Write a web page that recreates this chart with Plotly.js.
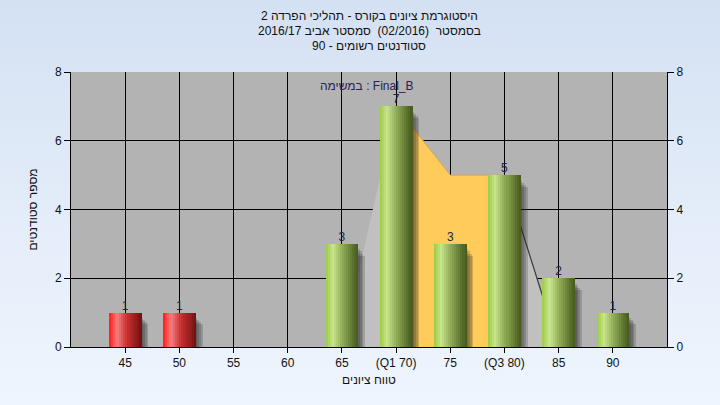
<!DOCTYPE html>
<html>
<head>
<meta charset="utf-8">
<script src="https://cdn.plot.ly/plotly-3.0.1.min.js"></script>
<style>
  html, body { margin: 0; padding: 0; }
  body { width: 720px; height: 405px; background: linear-gradient(to bottom, #D4E1F3 0%, #E4EDF9 55%, #EEF5FD 100%); }
  #chart { width: 720px; height: 405px; }
</style>
</head>
<body>
<div id="chart"></div>
<script>
// ---- data ----
const grades = [45, 50, 55, 60, 65, 70, 75, 80, 85, 90];
const tickLabels = ["45", "50", "55", "60", "65", "(Q1 70)", "75", "(Q3 80)", "85", "90"];
const counts = [1, 1, 0, 0, 3, 7, 3, 5, 2, 1];
const passMark = 55;
const curveX = [65, 70, 75, 80, 85];
const curveY = [0, 7, 5, 5, 0];
const iqrX = [70, 75, 80];
const iqrY = [7, 5, 5];
const tailX = [80, 85];
const tailY = [5, 0];
const titleLines = ["היסטוגרמת ציונים בקורס - תהליכי הפרדה 2", "בסמסטר  (02/2016)  סמסטר אביב 2016/17", "סטודנטים רשומים - 90"];
const taskLabel = "במשימה : Final_B";
const xTitle = "טווח ציונים";
const yTitle = "מספר סטודנטים";

// ---- helpers ----
function hex(c){ return [parseInt(c.slice(1,3),16), parseInt(c.slice(3,5),16), parseInt(c.slice(5,7),16)]; }
function grad(stops, t){
  for (let i = 0; i < stops.length - 1; i++) {
    const [p0, c0] = stops[i], [p1, c1] = stops[i+1];
    if (t >= p0 && t <= p1) {
      const f = (t - p0) / (p1 - p0), a = hex(c0), b = hex(c1);
      return 'rgb(' + a.map((v, k) => Math.round(v + (b[k] - v) * f)).join(',') + ')';
    }
  }
  return stops[stops.length-1][1];
}
const greenStops = [[0, '#9DCC40'], [0.22, '#C7E48C'], [0.5, '#93AE58'], [0.85, '#5A712C'], [1, '#46591F']];
const redStops = [[0, '#FF1818'], [0.25, '#F58080'], [0.55, '#C93232'], [0.88, '#8A1A1A'], [1, '#6E1010']];

const barW = 3;
const present = grades.map((g, i) => i).filter(i => counts[i] > 0);
const failIdx = present.filter(i => grades[i] < passMark);
const passIdx = present.filter(i => grades[i] >= passMark);

const traces = [];
// curve area (light gray) - on base subplot (drawn first)
traces.push({x: curveX, y: curveY, type: 'scatter', mode: 'lines', fill: 'tozeroy',
  fillcolor: '#C0C0C0', line: {width: 0, color: 'rgba(0,0,0,0)'}, hoverinfo: 'skip', showlegend: false});
// interquartile area (orange)
traces.push({x: iqrX, y: iqrY, type: 'scatter', mode: 'lines', fill: 'tozeroy',
  fillcolor: '#FFCC5C', line: {width: 1, color: '#D9A84A'}, hoverinfo: 'skip', showlegend: false});
// right tail line
traces.push({x: tailX, y: tailY, type: 'scatter', mode: 'lines',
  line: {width: 1.2, color: '#3A3A3A'}, hoverinfo: 'skip', showlegend: false});

// shadows (overlay subplot, drawn above the areas)
for (let k = 1; k <= 4; k++) {
  traces.push({type: 'bar', x: present.map(i => grades[i]), y: present.map(i => counts[i] - 0.1 - 0.06 * k),
    yaxis: 'y2', width: barW, offset: -barW / 2 + 0.16 * k, marker: {color: 'rgba(35,35,35,0.2)', line: {width: 0}},
    hoverinfo: 'skip', showlegend: false});
}

// gradient slices
const N = 16;
function addBars(idx, stops){
  if (!idx.length) return;
  for (let s = 0; s < N; s++) {
    traces.push({type: 'bar', x: idx.map(i => grades[i]), y: idx.map(i => counts[i]), yaxis: 'y2',
      width: barW / N + 0.02, offset: -barW / 2 + s * barW / N,
      marker: {color: grad(stops, (s + 0.5) / N), line: {width: 0}},
      hoverinfo: 'skip', showlegend: false});
  }
}
addBars(failIdx, redStops);
addBars(passIdx, greenStops);

// value labels
traces.push({type: 'scatter', mode: 'text', x: present.map(i => grades[i]), y: present.map(i => counts[i]), yaxis: 'y2',
  text: present.map(i => String(counts[i])), textposition: 'top center',
  textfont: {family: 'Liberation Sans, Arial, sans-serif', size: 12, color: '#1E2340'},
  hoverinfo: 'skip', showlegend: false, cliponaxis: false});

const font = {family: 'Liberation Sans, Arial, sans-serif', size: 12, color: '#111'};
const titleY = [1.2036, 1.149, 1.0945];
const annotations = titleLines.map((t, i) => ({text: t, xref: 'paper', yref: 'paper', x: 0.5, y: titleY[i],
  showarrow: false, xanchor: 'center', yanchor: 'middle', font: font}));
annotations.push({text: taskLabel, xref: 'paper', yref: 'paper', x: 0.497, y: 0.95, showarrow: false,
  xanchor: 'center', yanchor: 'middle', font: {family: 'Liberation Sans, Arial, sans-serif', size: 12, color: '#2A2250'}});

const layout = {
  width: 720, height: 405,
  margin: {l: 71, r: 53, t: 72, b: 58},
  paper_bgcolor: 'rgba(0,0,0,0)',
  plot_bgcolor: '#B3B3B3',
  barmode: 'overlay',
  bargap: 0,
  font: font,
  xaxis: {range: [40, 95], tickmode: 'array', tickvals: grades, ticktext: tickLabels,
    showgrid: true, gridcolor: '#000', gridwidth: 1, zeroline: false,
    showline: true, linecolor: '#000', linewidth: 1,
    ticks: 'outside', ticklen: 5, tickcolor: '#000',
    tickfont: font, fixedrange: true,
    title: {text: xTitle, font: font, standoff: 6}},
  yaxis: {range: [0, 8], tickvals: [0, 2, 4, 6, 8], showgrid: true, gridcolor: '#000', gridwidth: 1,
    zeroline: false, showline: true, linecolor: '#000', linewidth: 1,
    ticks: 'outside', ticklen: 6, tickcolor: '#000', tickfont: font,
    title: {text: yTitle, font: font, standoff: 14}},
  yaxis2: {range: [0, 8], tickvals: [0, 2, 4, 6, 8], overlaying: 'y', side: 'right', showgrid: false,
    zeroline: false, showline: true, linecolor: '#000', linewidth: 1,
    ticks: 'outside', ticklen: 6, tickcolor: '#000', tickfont: font},
  annotations: annotations
};
Plotly.newPlot('chart', traces, layout, {displayModeBar: false, staticPlot: true});
</script>
</body>
</html>
